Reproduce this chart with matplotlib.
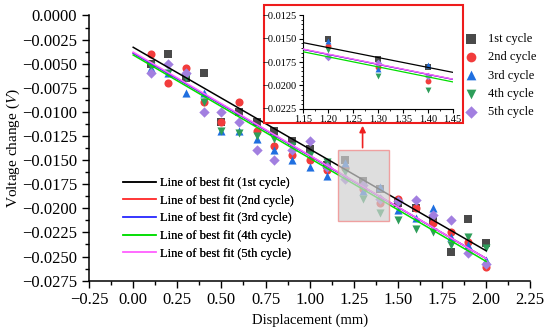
import numpy
import matplotlib
matplotlib.use("Agg")
import matplotlib.pyplot as plt
from matplotlib.patches import Rectangle
from matplotlib.ticker import MultipleLocator, AutoMinorLocator

#police type Palatino/Times
plt.rcParams['font.family'] = ['Liberation Serif', 'DejaVu Serif']
plt.rcParams['mathtext.fontset'] = 'stix'

#déplacements (mm)
disp = [0.1, 0.2, 0.3, 0.4, 0.5, 0.6, 0.7, 0.8, 0.9, 1.0,
        1.1, 1.2, 1.3, 1.4, 1.5, 1.6, 1.7, 1.8, 1.9, 2.0]

#variation de tension (V) pour chaque cycle
cycle1 = [-0.0050, -0.0040, -0.0065, -0.0060, -0.0110, -0.0100, -0.0110, -0.0120, -0.0130, -0.0138,
          -0.0155, -0.0150, -0.0172, -0.0180, -0.0195, -0.0200, -0.0212, -0.0245, -0.0211, -0.0236]
cycle2 = [-0.0040, -0.0070, -0.0055, -0.0090, -0.0110, -0.0090, -0.0120, -0.0135, -0.0145, -0.0150,
          -0.0160, -0.0158, -0.0180, -0.0195, -0.0190, -0.0200, -0.0215, -0.0225, -0.0235, -0.0261]
cycle3 = [-0.0055, -0.0060, -0.0080, -0.0080, -0.0120, -0.0120, -0.0128, -0.0140, -0.0150, -0.0157,
          -0.0167, -0.0153, -0.0182, -0.0178, -0.0202, -0.0210, -0.0200, -0.0230, -0.0238, -0.0254]
cycle4 = [-0.0052, -0.0060, -0.0065, -0.0090, -0.0120, -0.0122, -0.0125, -0.0128, -0.0135, -0.0145,
          -0.0152, -0.0162, -0.0190, -0.0205, -0.0212, -0.0221, -0.0225, -0.0238, -0.0230, -0.0241]
cycle5 = [-0.0060, -0.0050, -0.0060, -0.0100, -0.0100, -0.0110, -0.0140, -0.0150, -0.0140, -0.0130,
          -0.0157, -0.0170, -0.0176, -0.0190, -0.0192, -0.0191, -0.0207, -0.0212, -0.0246, -0.0258]

cycles = [cycle1, cycle2, cycle3, cycle4, cycle5]
noms = ['1st cycle', '2nd cycle', '3rd cycle', '4th cycle', '5th cycle']

#droites de régression (ordonnée à l'origine, pente)
fit_x = [0.0, 2.0]
fit_intercept = [-0.0033, -0.0039, -0.0039, -0.0041, -0.0038]
fit_slope = [-0.01055, -0.01065, -0.01065, -0.0107, -0.0107]

#styles
marqueurs = ['s', 'o', '^', 'v', 'D']
couleurs_pts = ['#4a4a4a', '#f23c3c', '#1f6fe0', '#2e9e5a', '#a27fe0']
couleurs_lig = ['#000000', '#ff3030', '#3030ff', '#00dd00', '#ff66ff']

fig = plt.figure(figsize=(5.5, 3.29), dpi=100)
ax = fig.add_axes([0.162, 0.147, 0.802, 0.806])

#nuages de points
pts = []
for i in range(5):
    h = ax.scatter(disp, cycles[i], marker=marqueurs[i], s=34 if marqueurs[i] != 'D' else 28,
                   color=couleurs_pts[i], linewidths=0, zorder=3, label=noms[i])
    pts.append(h)

#droites
lignes = []
for i in range(5):
    yy = [fit_intercept[i] + fit_slope[i] * x for x in fit_x]
    l, = ax.plot(fit_x, yy, color=couleurs_lig[i], lw=1.1, zorder=4,
                 label='Line of best fit (' + noms[i] + ')')
    lignes.append(l)

#zone agrandie
ax.add_patch(Rectangle((1.16, -0.0213), 0.29, 0.0073, facecolor='#d0d0d0', alpha=0.7,
                       edgecolor='#f08080', lw=1, zorder=5))
ax.annotate('', xy=(1.3, -0.01115), xytext=(1.3, -0.0140),
            arrowprops=dict(arrowstyle='-|>', color='#ee2020', lw=1.2, mutation_scale=9), zorder=6)

#cadre rouge de l'encart
ax.add_patch(Rectangle((0.48, 0.626), 0.362, 0.359, transform=fig.transFigure, clip_on=False,
                       facecolor='white', edgecolor='#ee1c1c', lw=1.5, zorder=10))

ax.set_xlim(-0.25, 2.25)
ax.set_ylim(-0.0275, 0.0)
ax.xaxis.set_major_locator(MultipleLocator(0.25))
ax.yaxis.set_major_locator(MultipleLocator(0.0025))
ax.xaxis.set_minor_locator(AutoMinorLocator(2))
ax.yaxis.set_minor_locator(AutoMinorLocator(2))
ax.xaxis.set_major_formatter(plt.FuncFormatter(lambda v, p: ('%.2f' % v).replace('-', '\u2212')))
ax.yaxis.set_major_formatter(plt.FuncFormatter(lambda v, p: ('%.4f' % v).replace('-', '\u2212')))
ax.tick_params(which='major', direction='out', length=5, width=1, labelsize=12)
ax.tick_params(which='minor', direction='out', length=3, width=1)
for s in ['top', 'right']:
    ax.spines[s].set_visible(False)
for s in ['left', 'bottom']:
    ax.spines[s].set_linewidth(1.1)
ax.set_xlabel('Displacement (mm)', fontsize=10.5)
ax.set_ylabel('Voltage change ($\\mathit{V}$)', fontsize=11, labelpad=0)

#légendes
leg1 = ax.legend(handles=lignes, loc='center left', bbox_to_anchor=(0.052, 0.235),
                 frameon=False, fontsize=9, handlelength=2.6, handletextpad=0.3, labelspacing=0.45)
ax.add_artist(leg1)
fig.legend(handles=pts, loc='center left', bbox_to_anchor=(0.824, 0.77), frameon=False,
           fontsize=9, handlelength=1.0, handletextpad=0.9, labelspacing=0.5, markerscale=1.2)

#encart
axi = fig.add_axes([0.5504, 0.6687, 0.2727, 0.2857])
for i in range(5):
    axi.scatter(disp, cycles[i], marker=marqueurs[i], s=18 if marqueurs[i] != 'D' else 15,
                color=couleurs_pts[i], linewidths=0, zorder=3)
for i in range(5):
    yy = [fit_intercept[i] + fit_slope[i] * x for x in fit_x]
    axi.plot(fit_x, yy, color=couleurs_lig[i], lw=0.9, zorder=4)
axi.set_xlim(1.15, 1.45)
axi.set_ylim(-0.0225, -0.0125)
axi.xaxis.set_major_locator(MultipleLocator(0.05))
axi.yaxis.set_major_locator(MultipleLocator(0.0025))
axi.xaxis.set_minor_locator(AutoMinorLocator(2))
axi.yaxis.set_minor_locator(AutoMinorLocator(5))
axi.xaxis.set_major_formatter(plt.FuncFormatter(lambda v, p: '%.2f' % v))
axi.yaxis.set_major_formatter(plt.FuncFormatter(lambda v, p: ('%.4f' % v).replace('-', '\u2212')))
axi.tick_params(which='major', direction='out', length=3, width=0.8, labelsize=7.5, pad=1.5)
axi.tick_params(which='minor', direction='out', length=1.5, width=0.6)
for s in ['top', 'right']:
    axi.spines[s].set_visible(False)
for s in ['left', 'bottom']:
    axi.spines[s].set_linewidth(0.8)
axi.patch.set_alpha(0)

fig.savefig('out.png', dpi=100)
